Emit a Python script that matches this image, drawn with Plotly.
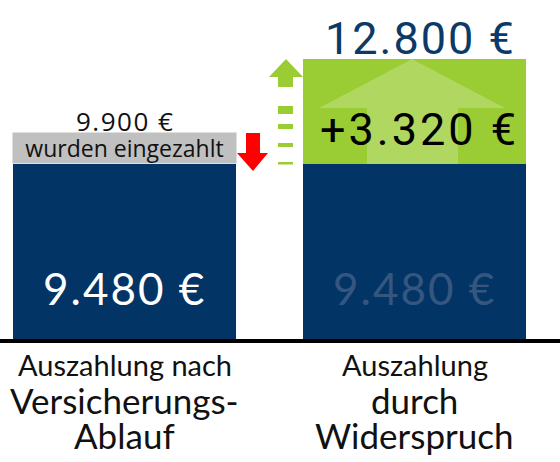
import plotly.graph_objects as go

# ---- data ----
categories = ["Auszahlung nach Versicherungs-Ablauf", "Auszahlung durch Widerspruch"]
base_payout = [9480, 9480]
extra_gain = [0, 3320]
paid_in = 9900
total_widerspruch = 12800

label_line1 = ["Auszahlung nach", "Auszahlung"]
label_line2 = ["Versicherungs-", "durch"]
label_line3 = ["Ablauf", "Widerspruch"]


def eur(v, sign=False):
    s = f"{v:,}".replace(",", ".") + " €"
    return ("+" + s) if sign else s


def spaced(t, ls):
    return f'<span style="letter-spacing:{ls}px">{t}</span>'


W, H = 560, 462
PLOT_BOTTOM = 339  # pixel where plot area ends
NAVY = "#033466"
GREEN = "#9acc34"


def py(p):
    """pixel y -> paper y"""
    return (PLOT_BOTTOM - p) / PLOT_BOTTOM


def px(p):
    return p / W


fig = go.Figure()
fig.add_trace(go.Bar(x=categories, y=base_payout, marker=dict(color=NAVY, line=dict(width=0)),
                     width=0.769, hoverinfo="skip"))
fig.add_trace(go.Bar(x=categories, y=extra_gain, marker=dict(color=GREEN, line=dict(width=0)),
                     width=0.769, hoverinfo="skip"))

shapes = []


def poly(points, color):
    d = "M " + " L ".join(f"{px(x):.5f},{py(y):.5f}" for x, y in points) + " Z"
    shapes.append(dict(type="path", path=d, xref="paper", yref="paper",
                       fillcolor=color, line=dict(width=0), layer="above"))


# light arrow inside green block
poly([(412, 59), (505, 108), (458, 108), (458, 164), (367, 164), (367, 108), (319, 108)],
     "rgba(255,255,255,0.22)")
# red down arrow
poly([(246, 133), (260, 133), (260, 153), (268, 153), (253, 171), (237, 153), (246, 153)], "#ff0000")
# green up arrow with dashes
poly([(286, 59), (303, 77), (293, 77), (293, 87), (278, 87), (278, 77), (269, 77)], GREEN)
for y0, y1 in [(106, 114), (124, 129), (143, 147), (162, 164.5)]:
    poly([(278, y0), (293, y0), (293, y1), (278, y1)], GREEN)

ann = []
# gray band label
ann.append(dict(x=categories[0], xref="x", y=py(148), yref="paper", text="wurden eingezahlt",
                showarrow=False, bgcolor="#c0c0c0", width=223, height=30, borderpad=0,
                font=dict(family="Open Sans", size=23, color="#111111"),
                xanchor="center", yanchor="middle"))
ann.append(dict(x=categories[0], xref="x", y=py(121), yref="paper", text=spaced(eur(paid_in), 1.5),
                showarrow=False, font=dict(family="Open Sans", size=26, color="#111111"),
                xanchor="center", yanchor="middle"))
# inside-bar values
ann.append(dict(x=categories[0], xref="x", y=py(288), yref="paper", text=spaced(eur(base_payout[0]), 2),
                showarrow=False, font=dict(family="Lato", size=44, color="white"),
                xanchor="center", yanchor="middle"))
ann.append(dict(x=categories[1], xref="x", y=py(288), yref="paper", text=spaced(eur(base_payout[1]), 2),
                showarrow=False, font=dict(family="Lato", size=44, color="#35577f"),
                xanchor="center", yanchor="middle"))
ann.append(dict(x=categories[1], xref="x", y=py(129), yref="paper",
                text=spaced(eur(extra_gain[1], sign=True), 3),
                showarrow=False, font=dict(family="Roboto", size=45, color="#000000"),
                xanchor="center", yanchor="middle", xshift=5))
ann.append(dict(x=categories[1], xref="x", y=py(38), yref="paper", text=spaced(eur(total_widerspruch), 2),
                showarrow=False, font=dict(family="Roboto", size=45, color="#0b3a68"),
                xanchor="center", yanchor="middle", xshift=6))
# category labels
for i, c in enumerate(categories):
    ann.append(dict(x=c, xref="x", y=py(364), yref="paper", text=label_line1[i], showarrow=False,
                    font=dict(family="Lato", size=29, color="#111111"), xanchor="center", yanchor="middle"))
    ann.append(dict(x=c, xref="x", y=py(400), yref="paper", text=label_line2[i], showarrow=False,
                    font=dict(family="Lato", size=35, color="#111111"), xanchor="center", yanchor="middle"))
    ann.append(dict(x=c, xref="x", y=py(435), yref="paper", text=label_line3[i], showarrow=False,
                    font=dict(family="Lato", size=35, color="#111111"), xanchor="center", yanchor="middle"))

fig.update_layout(
    width=W, height=H, barmode="stack", showlegend=False,
    margin=dict(l=0, r=0, t=0, b=H - PLOT_BOTTOM, pad=0),
    paper_bgcolor="white", plot_bgcolor="white",
    xaxis=dict(range=[-0.4293, 1.5017], showticklabels=False, ticks="", showgrid=False,
               zeroline=False, showline=True, linecolor="black", linewidth=4, fixedrange=True),
    yaxis=dict(range=[3946.7, 14665.4], visible=False, showgrid=False, zeroline=False, fixedrange=True),
    shapes=shapes, annotations=ann,
)

fig.write_html("out.html", config={"displayModeBar": False},
               post_script="document.body.style.margin='0';document.body.style.overflow='hidden';")
